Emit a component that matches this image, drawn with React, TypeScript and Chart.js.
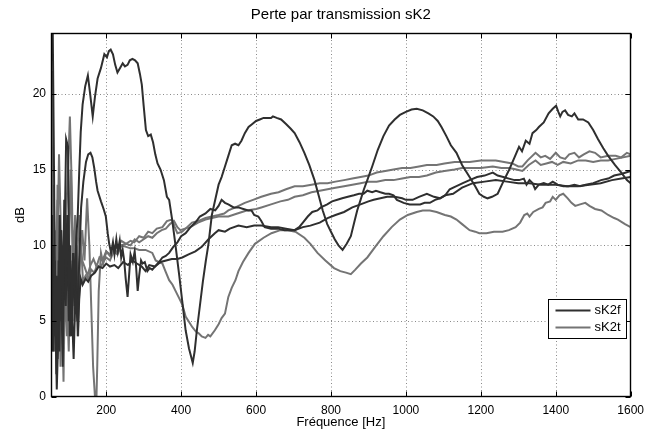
import React, { useEffect, useRef } from "react";
import { Chart, registerables } from "chart.js";

Chart.register(...registerables);

const TITLE = "Perte par transmission sK2";
const X_LABEL = "Fréquence [Hz]";
const Y_LABEL = "dB";
const LEGEND_NAMES = ["sK2f", "sK2t"];
const X_TICKS = [200, 400, 600, 800, 1000, 1200, 1400, 1600];
const Y_TICKS = [0, 5, 10, 15, 20];
const X_MIN = 52.6;
const X_MAX = 1600;
const Y_MIN = 0;
const Y_MAX = 24;

// sK2f curves (dark)
const sK2f_a: [number, number][] = [
  [53, 25.5], [57, 25], [61, 14], [64, 4], [67, 8], [70, 2.5], [73, 9], [76, 5], [80, 11], [84, 6],
  [88, 13], [92, 8], [96, 12], [100, 7], [104, 10], [108, 5.5], [112, 9.5], [116, 7], [120, 10.5],
  [124, 12.0], [128, 14.9], [132, 17.5], [137, 19.3], [144, 20.5], [151, 21.2], [157, 20.0], [164, 18.5],
  [170, 19.8], [177, 21.0], [186, 21.7], [195, 22.6], [202, 22.4], [207, 22.8], [212, 22.9], [218, 22.6],
  [224, 21.9], [230, 21.4], [237, 21.7], [244, 22.0], [250, 21.8], [257, 21.9], [263, 22.2], [270, 22.3],
  [277, 22.2], [284, 22.0], [290, 21.3], [295, 20.6], [300, 19.2], [306, 17.6], [312, 17.2], [319, 17.3],
  [325, 16.8], [331, 16.0], [337, 15.4], [345, 15.0], [354, 14.3], [362, 13.2], [368, 13.0], [376, 11.7],
  [385, 10.0], [395, 8.0], [403, 6.3], [412, 4.4], [421, 3.2], [431, 2.25], [436, 3.0], [442, 4.4],
  [450, 6.0], [458, 7.6], [466, 9.0], [473, 10.1], [482, 12.0], [491, 13.0], [500, 14.0], [508, 14.5],
  [517, 15.2], [526, 15.9], [535, 16.6], [544, 16.7], [553, 16.6], [561, 16.9], [570, 17.4], [580, 17.8],
  [590, 18.0], [600, 18.2], [610, 18.3], [620, 18.4], [630, 18.4], [640, 18.4], [645, 18.5], [655, 18.4],
  [667, 18.3], [680, 18.0], [692, 17.7], [703, 17.4], [716, 16.8], [729, 16.1], [742, 15.3], [756, 14.3],
  [767, 13.3], [778, 12.3], [790, 11.4], [800, 10.9], [810, 10.4], [820, 10.0], [831, 9.7], [842, 10.1],
  [853, 10.6], [862, 11.5], [870, 12.3], [879, 13.0], [888, 13.7], [897, 14.3], [910, 15.2], [925, 16.3],
  [940, 17.2], [955, 17.9], [970, 18.3], [984, 18.6], [1000, 18.8], [1015, 18.95], [1029, 19.0], [1045, 18.9],
  [1060, 18.7], [1073, 18.5], [1085, 18.2], [1095, 17.8], [1108, 17.2], [1120, 16.6], [1135, 16.1], [1150, 15.3],
  [1170, 14.5], [1185, 13.9], [1196, 13.4], [1208, 13.2], [1218, 13.1], [1230, 13.2], [1245, 13.4], [1260, 14.2],
  [1276, 15.0], [1290, 15.8], [1302, 16.5], [1310, 16.2], [1320, 16.9], [1330, 16.7], [1338, 17.4], [1348, 17.6],
  [1355, 17.8], [1368, 18.1], [1381, 18.7], [1392, 19.0], [1401, 19.2], [1407, 18.8], [1412, 18.5], [1418, 18.8],
  [1425, 18.9], [1433, 18.6], [1443, 18.5], [1450, 18.7], [1460, 18.3], [1473, 18.3], [1487, 18.1], [1500, 17.6],
  [1513, 17.0], [1527, 16.4], [1540, 15.9], [1558, 15.3], [1575, 14.8], [1590, 14.3], [1600, 14.1],
];

const sK2f_b: [number, number][] = [
  [53, 5], [56, 12], [59, 3], [63, 9], [67, 1.5], [71, 7], [75, 3], [79, 11], [83, 5], [88, 9], [93, 17],
  [98, 16.5], [103, 4], [108, 6], [113, 2.5], [118, 7], [123, 5], [128, 9], [133, 12.5], [139, 14.2],
  [146, 15.5], [152, 16.0], [158, 16.1], [163, 15.8], [168, 15.1], [173, 14.2], [177, 13.6], [186, 12.9],
  [193, 12.4], [199, 11.9], [204, 10.8], [208, 10.1], [213, 9.5], [218, 10.2], [222, 9.4], [227, 10.4],
  [231, 9.6], [236, 10.3], [240, 9.2], [244, 9.7], [248, 9.0], [252, 7.8], [257, 6.6], [261, 8.0], [265, 9.4],
  [271, 8.9], [276, 9.6], [280, 8.5], [284, 7.0], [288, 8.0], [293, 9.0], [297, 8.8], [303, 8.9], [310, 8.3],
  [316, 8.5], [323, 8.4], [330, 8.6], [341, 8.9], [350, 9.2], [359, 9.3], [368, 9.5], [379, 9.9], [390, 10.2],
  [400, 10.6], [412, 10.8], [425, 11.2], [438, 11.5], [450, 11.9], [465, 12.1], [478, 12.4], [491, 12.3],
  [500, 12.6], [508, 13.0], [517, 12.8], [526, 12.7], [540, 12.5], [553, 12.5], [566, 12.4], [579, 12.3],
  [588, 12.3], [595, 12.0], [606, 11.9], [614, 11.6], [623, 11.2], [640, 11.1], [659, 11.1], [676, 11.0],
  [690, 11.0], [703, 11.0], [715, 11.2], [725, 11.5], [738, 11.9], [750, 12.2], [764, 12.3], [773, 12.5],
  [790, 12.7], [803, 12.9], [817, 13.0], [830, 13.1], [845, 13.2], [861, 13.3], [875, 13.4], [887, 13.4],
  [897, 13.6], [910, 13.5], [920, 13.6], [932, 13.5], [945, 13.4], [955, 13.4], [967, 13.3], [976, 13.0],
  [985, 12.9], [994, 12.8], [1010, 12.7], [1025, 12.7], [1038, 12.7], [1050, 12.8], [1064, 12.8], [1078, 13.0],
  [1091, 13.1], [1105, 13.3], [1117, 13.7], [1135, 13.9], [1152, 14.1], [1170, 14.3], [1190, 14.5], [1210, 14.6],
  [1232, 14.8], [1245, 14.6], [1260, 14.5], [1275, 14.4], [1290, 14.3], [1302, 14.3], [1315, 14.4], [1322, 14.0],
  [1330, 14.3], [1338, 14.1], [1345, 13.7], [1355, 14.0], [1368, 14.1], [1380, 14.0], [1392, 14.2], [1405, 14.0],
  [1420, 13.9], [1434, 13.9], [1450, 14.0], [1465, 13.9], [1480, 14.0], [1500, 14.1], [1521, 14.3], [1540, 14.4],
  [1556, 14.6], [1575, 14.7], [1600, 14.9],
];

const sK2f_c: [number, number][] = [
  [53, 8], [56, 3], [60, 10], [64, 6], [68, 0.5], [72, 4], [76, 12], [80, 7], [84, 2], [88, 10], [92, 6],
  [96, 11], [100, 5], [104, 8], [108, 4], [112, 9.5], [116, 6], [120, 10], [124, 4], [128, 6.5], [132, 7.8],
  [137, 7.4], [145, 7.8], [152, 7.6], [160, 8.0], [170, 8.2], [180, 8.6], [190, 8.5], [200, 8.8], [210, 8.6],
  [222, 8.7], [232, 8.5], [245, 8.9], [258, 8.7], [270, 9.0], [282, 8.8], [295, 8.6], [305, 8.3], [315, 8.7],
  [330, 8.6], [345, 8.9], [360, 9.0], [375, 9.1], [390, 9.1], [403, 9.2], [420, 9.4], [438, 9.6], [455, 9.9],
  [473, 10.4], [490, 10.8], [500, 11.0], [517, 10.9], [530, 11.1], [553, 11.3], [575, 11.2], [595, 11.3],
  [614, 11.3], [640, 11.2], [659, 11.2], [680, 11.1], [703, 11.0], [725, 11.2], [745, 11.3], [770, 11.5],
  [791, 11.8], [812, 12.0], [835, 12.2], [857, 12.5], [879, 12.7], [900, 12.9], [914, 13.0], [932, 13.1],
  [950, 13.2], [970, 13.2], [990, 13.1], [1000, 13.0], [1018, 13.0], [1035, 13.2], [1056, 13.4], [1075, 13.2],
  [1091, 13.1], [1105, 13.3], [1126, 13.4], [1150, 13.8], [1179, 14.1], [1210, 14.2], [1240, 14.3], [1270, 14.2],
  [1300, 14.1], [1330, 14.1], [1360, 14.0], [1400, 14.0], [1430, 13.9], [1460, 13.9], [1490, 14.0], [1520, 14.1],
  [1550, 14.3], [1575, 14.4], [1600, 14.5],
];

// sK2t curves (grey)
const sK2t_a: [number, number][] = [
  [53, 21.5], [55, 17], [58, 9], [61, 3], [64, 11], [67, 6], [70, 14], [74, 8], [78, 2], [82, 10], [86, 5],
  [90, 12], [95, 7], [100, 3], [105, 9], [110, 6], [115, 11], [120, 8], [125, 4], [130, 9], [136, 11], [142, 9],
  [149, 13.1], [155, 10], [160, 6], [165, 2], [170, 0], [173, -1], [176, 2], [180, 7], [186, 9.5], [192, 8.8],
  [200, 9.6], [210, 9.3], [220, 9.8], [230, 9.5], [240, 10.0], [253, 9.9], [265, 9.8], [275, 9.8], [288, 9.7],
  [305, 9.7], [323, 9.5], [332, 9.0], [340, 8.9], [350, 8.8], [358, 8.3], [368, 7.7], [377, 7.4], [385, 7.0],
  [395, 6.5], [403, 6.1], [412, 5.3], [420, 5.0], [430, 4.6], [440, 4.3], [447, 4.2], [455, 4.0], [465, 3.9],
  [472, 4.1], [478, 4.0], [490, 4.4], [500, 4.8], [508, 5.2], [517, 5.5], [526, 6.6], [535, 7.2], [545, 7.7],
  [553, 8.3], [565, 8.9], [580, 9.5], [597, 10.1], [620, 10.5], [641, 10.8], [665, 11.0], [685, 11.0],
  [705, 10.9], [729, 10.5], [745, 10.1], [764, 9.5], [785, 9.0], [808, 8.5], [825, 8.3], [840, 8.2], [853, 8.1],
  [865, 8.4], [880, 8.8], [897, 9.2], [918, 9.9], [940, 10.6], [962, 11.2], [984, 11.7], [1005, 12.0],
  [1029, 12.2], [1045, 12.3], [1064, 12.3], [1082, 12.2], [1104, 12.0], [1120, 11.9], [1135, 11.7], [1150, 11.4],
  [1170, 11.0], [1185, 10.9], [1196, 10.8], [1215, 10.8], [1235, 10.9], [1258, 10.9], [1275, 11.0], [1293, 11.2],
  [1305, 11.5], [1316, 12.0], [1324, 12.1], [1330, 11.9], [1340, 12.2], [1355, 12.4], [1365, 12.5], [1373, 12.8],
  [1385, 12.9], [1392, 13.2], [1400, 13.0], [1410, 13.3], [1420, 13.4], [1432, 13.1], [1442, 12.8], [1452, 12.6],
  [1465, 12.7], [1479, 12.8], [1490, 12.6], [1505, 12.4], [1522, 12.3], [1540, 12.0], [1556, 11.8], [1566, 11.7],
  [1585, 11.4], [1600, 11.2],
];

const sK2t_b: [number, number][] = [
  [53, 13], [56, 6], [59, 12], [62, 4], [66, 9], [70, 13], [74, 5], [78, 10], [83, 4], [88, 7], [93, 12],
  [98, 15], [103, 18.5], [108, 14], [112, 8], [117, 12], [122, 9], [128, 12], [133, 10], [138, 7.6], [145, 8.0],
  [152, 7.8], [160, 8.4], [168, 8.2], [176, 8.7], [184, 8.5], [192, 8.9], [200, 9.2], [210, 9.0], [220, 9.6],
  [230, 9.4], [240, 10.0], [253, 10.1], [265, 10.3], [275, 10.2], [288, 10.6], [300, 10.5], [312, 10.9],
  [323, 10.8], [335, 11.1], [350, 11.2], [362, 11.6], [376, 11.7], [383, 11.2], [390, 10.8], [403, 10.9],
  [416, 11.2], [429, 11.5], [445, 11.6], [465, 11.8], [482, 11.9], [500, 12.0], [515, 12.1], [526, 12.3],
  [545, 12.5], [570, 12.8], [592, 13.0], [614, 13.2], [640, 13.4], [660, 13.5], [680, 13.7], [703, 13.9],
  [725, 13.9], [748, 14.0], [770, 14.1], [791, 14.1], [812, 14.2], [835, 14.3], [857, 14.4], [879, 14.5],
  [900, 14.6], [922, 14.8], [945, 14.9], [967, 15.0], [990, 15.1], [1012, 15.1], [1035, 15.2], [1056, 15.3],
  [1082, 15.3], [1103, 15.4], [1130, 15.5], [1150, 15.5], [1170, 15.5], [1200, 15.6], [1220, 15.6], [1240, 15.6],
  [1262, 15.5], [1284, 15.4], [1300, 15.2], [1311, 15.2], [1325, 15.6], [1346, 16.1], [1360, 15.8], [1372, 15.9],
  [1385, 15.7], [1400, 16.1], [1412, 15.8], [1425, 15.7], [1436, 16.0], [1450, 16.1], [1462, 15.8], [1475, 16.0],
  [1490, 16.2], [1505, 16.1], [1520, 15.8], [1540, 15.9], [1560, 15.9], [1575, 15.8], [1590, 16.1], [1600, 16.0],
];

const sK2t_c: [number, number][] = [
  [53, 4], [56, 10], [60, 14], [63, 8], [66, 3], [70, 10], [74, 16], [78, 12], [82, 6], [86, 1], [90, 8],
  [95, 4], [100, 9], [105, 15], [110, 10], [115, 5], [120, 11], [125, 7], [130, 10], [136, 9], [142, 8.6],
  [150, 8.0], [158, 8.7], [166, 9.1], [174, 8.6], [182, 9.2], [190, 9.0], [200, 9.6], [210, 9.4], [220, 10.0],
  [230, 9.8], [240, 10.3], [253, 10.1], [265, 10.0], [276, 10.4], [288, 10.2], [300, 10.4], [312, 10.6],
  [323, 10.5], [335, 10.8], [348, 11.0], [359, 11.1], [370, 11.4], [381, 11.6], [390, 11.2], [398, 11.0],
  [410, 11.1], [425, 11.2], [445, 11.5], [465, 11.7], [482, 11.8], [500, 11.9], [526, 11.9], [550, 12.1],
  [575, 12.3], [600, 12.4], [614, 12.5], [640, 12.7], [665, 12.9], [685, 13.0], [703, 13.2], [725, 13.3],
  [748, 13.5], [770, 13.6], [791, 13.7], [812, 13.8], [835, 13.9], [857, 14.0], [879, 14.1], [900, 14.2],
  [922, 14.2], [945, 14.3], [967, 14.3], [990, 14.4], [1012, 14.5], [1035, 14.5], [1056, 14.6], [1080, 14.8],
  [1103, 14.9], [1130, 15.0], [1150, 15.1], [1170, 15.1], [1200, 15.1], [1232, 15.2], [1255, 15.1], [1276, 15.1],
  [1295, 15.0], [1311, 14.9], [1328, 15.3], [1346, 15.6], [1360, 15.3], [1375, 15.4], [1390, 15.5], [1405, 15.3],
  [1420, 15.5], [1440, 15.4], [1460, 15.6], [1480, 15.6], [1500, 15.5], [1520, 15.6], [1540, 15.6], [1560, 15.7],
  [1580, 15.8], [1600, 15.9],
];

const DARK = "#2f2f2f";
const GREY = "#747474";
const FONT = "'Liberation Sans', Arial, Helvetica, sans-serif";

const toPts = (arr: [number, number][]) => arr.map(([x, y]) => ({ x, y }));

const decorPlugin = {
  id: "matlabDecor",
  beforeDatasetsDraw(chart: any) {
    const { ctx, chartArea: a, scales } = chart;
    const xs = scales.x, ys = scales.y;
    ctx.save();
    ctx.strokeStyle = "#8a8a8a";
    ctx.lineWidth = 1;
    ctx.setLineDash([1, 2.5]);
    X_TICKS.forEach((v) => {
      const px = Math.round(xs.getPixelForValue(v)) + 0.5;
      if (px > a.right - 1) return;
      ctx.beginPath(); ctx.moveTo(px, a.top); ctx.lineTo(px, a.bottom); ctx.stroke();
    });
    Y_TICKS.forEach((v) => {
      const py = Math.round(ys.getPixelForValue(v)) + 0.5;
      if (py > a.bottom - 1) return;
      ctx.beginPath(); ctx.moveTo(a.left, py); ctx.lineTo(a.right, py); ctx.stroke();
    });
    ctx.restore();
  },
  afterDatasetsDraw(chart: any) {
    const { ctx, chartArea: a, scales } = chart;
    const xs = scales.x, ys = scales.y;
    ctx.save();
    ctx.strokeStyle = "#000";
    ctx.lineWidth = 1;
    ctx.setLineDash([]);
    const L = Math.round(a.left) + 0.5, R = Math.round(a.right) - 0.5;
    const T = Math.round(a.top) + 0.5, B = Math.round(a.bottom) - 0.5;
    const tl = 5;
    X_TICKS.forEach((v) => {
      const px = Math.round(xs.getPixelForValue(v)) + 0.5;
      ctx.beginPath(); ctx.moveTo(px, B); ctx.lineTo(px, B - tl); ctx.stroke();
      ctx.beginPath(); ctx.moveTo(px, T); ctx.lineTo(px, T + tl); ctx.stroke();
    });
    Y_TICKS.forEach((v) => {
      const py = Math.round(ys.getPixelForValue(v)) + 0.5;
      ctx.beginPath(); ctx.moveTo(L, py); ctx.lineTo(L + tl, py); ctx.stroke();
      ctx.beginPath(); ctx.moveTo(R, py); ctx.lineTo(R - tl, py); ctx.stroke();
    });
    ctx.lineWidth = 1.4;
    ctx.strokeRect(L, T, R - L, B - T);

    // legend
    const lx = 548.5, ly = 299.5, lw = 78, lh = 39;
    ctx.fillStyle = "#fff";
    ctx.fillRect(lx, ly, lw, lh);
    ctx.lineWidth = 1;
    ctx.strokeStyle = "#000";
    ctx.strokeRect(lx, ly, lw, lh);
    const colors = [DARK, GREY];
    ctx.font = `13px ${FONT}`;
    ctx.textBaseline = "middle";
    ctx.textAlign = "left";
    LEGEND_NAMES.forEach((name, i) => {
      const yy = ly + 11 + i * 17;
      ctx.strokeStyle = colors[i];
      ctx.lineWidth = 2;
      ctx.beginPath(); ctx.moveTo(lx + 7, yy); ctx.lineTo(lx + 42, yy); ctx.stroke();
      ctx.fillStyle = "#000";
      ctx.fillText(name, lx + 46, yy);
    });
    ctx.restore();
  },
  afterDraw(chart: any) {
    const { ctx, chartArea: a } = chart;
    ctx.save();
    ctx.fillStyle = "#000";
    ctx.textAlign = "center";
    ctx.textBaseline = "middle";
    ctx.font = `15px ${FONT}`;
    ctx.fillText(TITLE, (a.left + a.right) / 2, 15);
    ctx.font = `13px ${FONT}`;
    ctx.fillText(X_LABEL, (a.left + a.right) / 2, 422);
    ctx.translate(20, (a.top + a.bottom) / 2);
    ctx.rotate(-Math.PI / 2);
    ctx.fillText(Y_LABEL, 0, 0);
    ctx.restore();
  },
};

export default function App() {
  const ref = useRef<HTMLCanvasElement | null>(null);
  useEffect(() => {
    document.body.style.margin = "0";
    const canvas = ref.current!;
    const mk = (label: string, arr: [number, number][], color: string) => ({
      label,
      data: toPts(arr),
      borderColor: color,
      backgroundColor: color,
      borderWidth: 2,
      pointRadius: 0,
      tension: 0,
      fill: false,
    });
    const chart = new Chart(canvas, {
      type: "line",
      data: {
        datasets: [
          mk("sK2f", sK2f_a, DARK),
          mk("sK2f", sK2f_b, DARK),
          mk("sK2f", sK2f_c, DARK),
          mk("sK2t", sK2t_a, GREY),
          mk("sK2t", sK2t_b, GREY),
          mk("sK2t", sK2t_c, GREY),
        ],
      },
      options: {
        animation: false,
        responsive: false,
        layout: { padding: { top: 33, right: 14, left: 0, bottom: 0 } },
        plugins: { legend: { display: false }, title: { display: false }, tooltip: { enabled: false } },
        scales: {
          x: {
            type: "linear",
            min: X_MIN,
            max: X_MAX,
            grid: { display: false, drawTicks: false },
            border: { display: false },
            afterBuildTicks: (s: any) => { s.ticks = X_TICKS.map((v) => ({ value: v })); },
            afterFit: (s: any) => { s.height = 35; },
            ticks: {
              padding: 6,
              maxRotation: 0,
              color: "#000",
              font: { family: FONT, size: 12 },
              callback: (v: any) => String(v),
            },
          },
          y: {
            type: "linear",
            min: Y_MIN,
            max: Y_MAX,
            grid: { display: false, drawTicks: false },
            border: { display: false },
            afterBuildTicks: (s: any) => { s.ticks = Y_TICKS.map((v) => ({ value: v })); },
            afterFit: (s: any) => { s.width = 51; },
            ticks: {
              padding: 5,
              color: "#000",
              font: { family: FONT, size: 12 },
              callback: (v: any) => String(v),
            },
          },
        },
      },
      plugins: [decorPlugin],
    } as any);
    return () => chart.destroy();
  }, []);
  return (
    <div style={{ width: 650, height: 432 }}>
      <canvas ref={ref} width={650} height={432} style={{ display: "block" }} />
    </div>
  );
}
